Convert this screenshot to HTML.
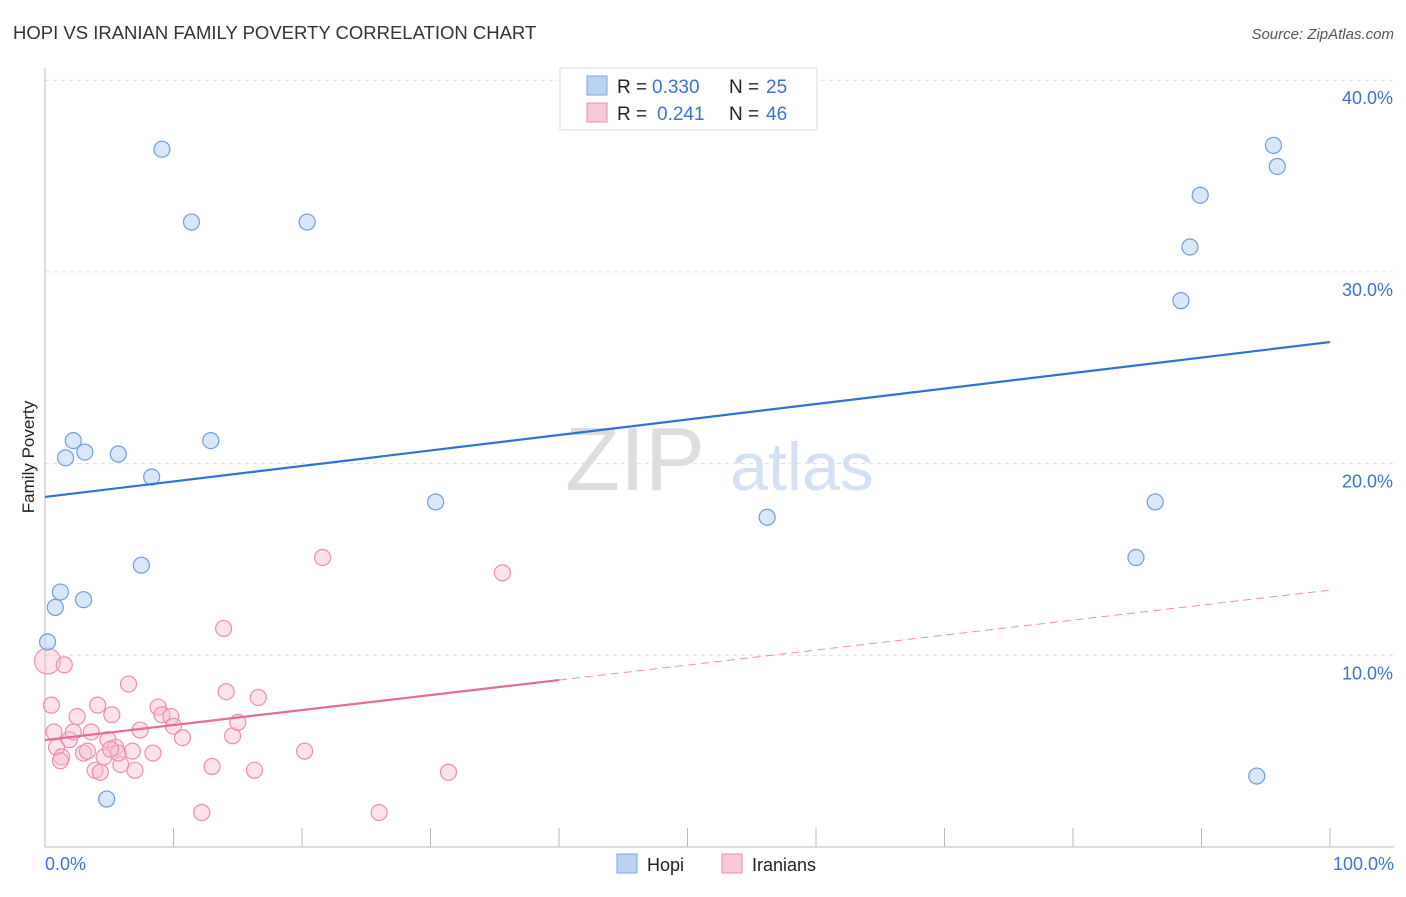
<!DOCTYPE html>
<html><head><meta charset="utf-8"><style>
body{margin:0;background:#fff;font-family:"Liberation Sans",sans-serif;}
svg text{font-family:"Liberation Sans",sans-serif;}
</style></head><body>
<svg id="c" width="1406" height="892" xmlns="http://www.w3.org/2000/svg">
<text x="13" y="39" font-size="18.5" fill="#333">HOPI VS IRANIAN FAMILY POVERTY CORRELATION CHART</text>
<text x="1394" y="39" font-size="15" fill="#555" font-style="italic" text-anchor="end">Source: ZipAtlas.com</text>
<text x="34" y="457" font-size="17" fill="#222" text-anchor="middle" transform="rotate(-90 34 457)">Family Poverty</text>
<text x="635" y="490" font-size="90" fill="#ddd" font-family="Liberation Serif" text-anchor="middle">ZIP</text>
<text x="802" y="490" font-size="68" fill="#d4e1f3" text-anchor="middle">atlas</text>
<g id="grid"></g><g id="marks"></g><g id="lines"></g>
<g>
<rect x="560" y="68" width="257" height="62" fill="#fff" stroke="#ddd"/>
<rect x="587" y="76" width="20" height="19" fill="#b9d3f5" stroke="#7aa6e0"/>
<rect x="587" y="103" width="20" height="19" fill="#f9c9d8" stroke="#ec8fb0"/>
<text x="617" y="93" font-size="19" fill="#222">R =</text>
<text x="652" y="93" font-size="19" fill="#3a73d0">0.330</text>
<text x="729" y="93" font-size="19" fill="#222">N =</text>
<text x="766" y="93" font-size="19" fill="#3a73d0">25</text>
<text x="617" y="120" font-size="19" fill="#222">R =</text>
<text x="657" y="120" font-size="19" fill="#3a73d0">0.241</text>
<text x="729" y="120" font-size="19" fill="#222">N =</text>
<text x="766" y="120" font-size="19" fill="#3a73d0">46</text>
</g>
<g>
<rect x="617" y="854" width="20" height="19" fill="#b9d3f5" stroke="#7aa6e0"/>
<text x="647" y="871" font-size="18" fill="#222">Hopi</text>
<rect x="722" y="854" width="20" height="19" fill="#f9c9d8" stroke="#ec8fb0"/>
<text x="752" y="871" font-size="18" fill="#222">Iranians</text>
</g>
</svg>
<script>
const hopiX=[9.1,11.4,20.4,2.2,1.6,3.1,5.7,12.9,8.3,30.4,56.2,7.5,1.2,0.8,3.0,0.2,4.8,95.6,95.9,89.9,89.1,88.4,86.4,84.9,94.3];
const hopiY=[36.4,32.6,32.6,21.2,20.3,20.6,20.5,21.2,19.3,18.0,17.2,14.7,13.3,12.5,12.9,10.7,2.5,36.6,35.5,34.0,31.3,28.5,18.0,15.1,3.7];
const iranX=[0.2,1.5,0.5,0.7,0.9,1.3,1.9,2.5,2.2,3.0,3.3,3.6,4.1,3.9,4.3,4.6,4.9,5.2,5.5,5.9,5.7,6.5,6.8,7.0,7.4,8.4,8.8,9.1,9.8,10.0,10.7,13.0,13.9,14.1,14.6,15.0,16.3,16.6,20.2,21.6,26.0,31.4,35.6,12.2,5.1,1.2];
const iranY=[9.7,9.5,7.4,6.0,5.2,4.7,5.6,6.8,6.0,4.9,5.0,6.0,7.4,4.0,3.9,4.7,5.6,6.9,5.2,4.3,4.9,8.5,5.0,4.0,6.1,4.9,7.3,6.9,6.8,6.3,5.7,4.2,11.4,8.1,5.8,6.5,4.0,7.8,5.0,15.1,1.8,3.9,14.3,1.8,5.1,4.5];
const yTicks=[10,20,30,40];
const hopiFit=[18.26,26.34];
const iranFit=[5.58,13.4];
const X=v=>45+v*12.85, Y=v=>847-v*19.17;
const NS="http://www.w3.org/2000/svg";
function mk(t,a,p){const e=document.createElementNS(NS,t);for(const k in a)e.setAttribute(k,a[k]);document.getElementById(p).appendChild(e);return e;}
for(const t of yTicks){
 const g=mk('line',{x1:45,x2:1394,y1:Y(t),y2:Y(t),stroke:'#ddd','stroke-dasharray':'4 4'},'grid');
 
 
 const l=mk('text',{x:1393,y:Y(t)+24,'font-size':18,fill:'#3a73d0','text-anchor':'end'},'grid');
 l.textContent=t.toFixed(1)+'%';
 
 
}
mk('line',{x1:45,x2:45,y1:68,y2:847,stroke:'#bbb'},'grid');
mk('line',{x1:45,x2:1394,y1:847,y2:847,stroke:'#bbb'},'grid');
for(let i=1;i<=10;i++){mk('line',{x1:X(i*10),x2:X(i*10),y1:828,y2:847,stroke:'#bbb'},'grid');}
const a=mk('text',{x:45,y:870,'font-size':18,fill:'#3a73d0'},'grid');a.textContent='0.0%';

const b=mk('text',{x:1394,y:870,'font-size':18,fill:'#3a73d0','text-anchor':'end'},'grid');b.textContent='100.0%';

iranX.forEach((x,i)=>{const c=mk('circle',{cx:X(x),cy:Y(iranY[i]),r:i==0?13:8,fill:'rgba(248,190,208,0.45)',stroke:'#ec8fb0','stroke-width':1.2},'marks');
 
 });
hopiX.forEach((x,i)=>{const c=mk('circle',{cx:X(x),cy:Y(hopiY[i]),r:8,fill:'rgba(185,211,245,0.55)',stroke:'#6f9ddd','stroke-width':1.2},'marks');
 
 });
const hl=mk('line',{x1:X(0),y1:Y(hopiFit[0]),x2:X(100),y2:Y(hopiFit[1]),stroke:'#2f72d6','stroke-width':2.2},'lines');

const iy=t=>iranFit[0]+(iranFit[1]-iranFit[0])*t/100;
const il=mk('line',{x1:X(0),y1:Y(iy(0)),x2:X(40),y2:Y(iy(40)),stroke:'#e8699a','stroke-width':2.2},'lines');

const id=mk('line',{x1:X(40),y1:Y(iy(40)),x2:X(100),y2:Y(iy(100)),stroke:'#ec8fb0','stroke-width':1,'stroke-dasharray':'8 5'},'lines');

</script>
</body></html>
